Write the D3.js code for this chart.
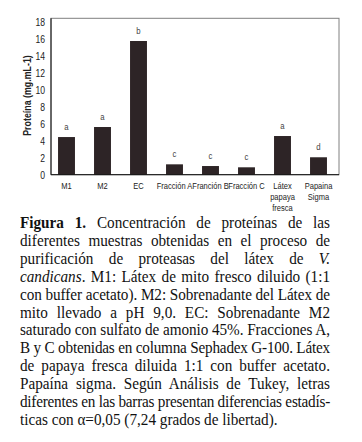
<!DOCTYPE html>
<html>
<head>
<meta charset="utf-8">
<script src="https://cdn.jsdelivr.net/npm/d3@7"></script>
<style>
  body { margin: 0; background: #fff; width: 362px; height: 442px; overflow: hidden; position: relative; }
  svg { position: absolute; left: 0; top: 0; }
  svg text { font-family: "Liberation Sans", Arial, sans-serif; }
  #caption { position: absolute; left: 20px; top: 214px; width: 326.3px;
    transform: scaleX(0.95); transform-origin: 0 0;
    font-family: "Liberation Serif", "Times New Roman", serif; font-size: 16px; line-height: 17.9px; color: #111; }
  #caption div { white-space: nowrap; }
</style>
</head>
<body>
<svg width="362" height="215"></svg>
<div id="caption"></div>
<script>
const categories = ['M1', 'M2', 'EC', 'Fracción A', 'Franción B', 'Fracción C', 'Látex\npapaya\nfresca', 'Papaina\nSigma'];
const proteina = [4.43, 5.61, 15.73, 1.22, 1.02, 0.87, 4.55, 2.05];
const letras = ['a', 'a', 'b', 'c', 'c', 'c', 'a', 'd'];
const yTicks = [0, 2, 4, 6, 8, 10, 12, 14, 16, 18];
const yLabel = 'Proteína (mg.mL-1)';

const captionLines = [
    [['b', 'Figura 1.'], ['', ' Concentración de proteínas de las']],
    [['', 'diferentes muestras obtenidas en el proceso de']],
    [['', 'purificación de proteasas del látex de '], ['i', 'V.']],
    [['i', 'candicans'], ['', '. M1: Látex de mito fresco diluido (1:1']],
    [['', 'con buffer acetato). M2: Sobrenadante del Látex de']],
    [['', 'mito llevado a pH 9,0. EC: Sobrenadante M2']],
    [['', 'saturado con sulfato de amonio 45%. Fracciones A,']],
    [['', 'B y C obtenidas en columna Sephadex G-100. Látex']],
    [['', 'de papaya fresca diluida 1:1 con buffer acetato.']],
    [['', 'Papaína sigma. Según Análisis de Tukey, letras']],
    [['', 'diferentes en las barras presentan diferencias estadís-']],
    [['', 'ticas con α=0,05 (7,24 grados de libertad).']]
];

const svg = d3.select('svg');
const plot = { left: 51, right: 339, top: 18.3, bottom: 174.7 };
const narrow = 'scale(0.82, 1)';

const x = d3.scaleBand()
    .domain(categories)
    .range([plot.left - 2.5, plot.right - 2.5])
    .paddingInner(0.53)
    .paddingOuter(0.265);
const y = d3.scaleLinear().domain([0, 18.4]).range([plot.bottom, plot.top]);

// marco
svg.append('rect')
    .attr('x', plot.left).attr('y', plot.top)
    .attr('width', plot.right - plot.left).attr('height', plot.bottom - plot.top)
    .attr('fill', 'none').attr('stroke', '#808080').attr('stroke-width', 1);

//---- Barras
svg.append('g').selectAll('rect')
    .data(categories)
    .join('rect')
    .attr('x', d => x(d))
    .attr('y', (d, i) => y(proteina[i]))
    .attr('width', x.bandwidth())
    .attr('height', (d, i) => y(0) - y(proteina[i]))
    .attr('fill', '#2d2426');

svg.append('g').selectAll('text')
    .data(categories)
    .join('text')
    .attr('transform', (d, i) => `translate(${x(d) + x.bandwidth() / 2}, ${y(proteina[i]) - 7}) ${narrow}`)
    .attr('text-anchor', 'middle')
    .attr('font-size', 9.5)
    .attr('fill', '#444')
    .text((d, i) => letras[i]);

// ejes
const yAxis = d3.axisLeft(y).tickValues(yTicks).tickSize(0).tickPadding(7.3);
svg.append('g')
    .attr('transform', `translate(${plot.left}, 0)`)
    .call(yAxis)
    .call(g => g.select('.domain').remove())
    .selectAll('text')
    .attr('font-family', null)
    .attr('font-size', 10.5)
    .attr('fill', '#222')
    .attr('transform', narrow);

const xAxis = d3.axisBottom(x).tickSize(0).tickPadding(8);
svg.append('g')
    .attr('transform', `translate(0, ${plot.bottom})`)
    .call(xAxis)
    .call(g => g.select('.domain').remove())
    .selectAll('text')
    .attr('font-family', null)
    .attr('font-size', 9.2)
    .attr('fill', '#222')
    .attr('transform', narrow)
    .each(function (d) {
        const t = d3.select(this);
        const parts = d.split('\n');
        t.text(null);
        parts.forEach((p, k) => {
            t.append('tspan').attr('x', 0).attr('dy', k === 0 ? '0.71em' : '1.2em').text(p);
        });
        t.attr('dy', null);
    });

svg.append('line')
    .attr('x1', plot.left).attr('x2', plot.left)
    .attr('y1', plot.top).attr('y2', plot.bottom)
    .attr('stroke', '#111');
svg.append('line')
    .attr('x1', plot.left).attr('x2', plot.right)
    .attr('y1', plot.bottom).attr('y2', plot.bottom)
    .attr('stroke', '#111');

svg.append('text')
    .attr('transform', `translate(30.5, 95.5) rotate(-90) ${narrow}`)
    .attr('text-anchor', 'middle')
    .attr('font-size', 10.8)
    .attr('font-weight', 'bold')
    .attr('fill', '#222')
    .text(yLabel);

// leyenda de la figura (justificada a mano)
const cap = d3.select('#caption');
const boxW = 326.3;
captionLines.forEach((line, i) => {
    const div = cap.append('div');
    const inner = div.append('span');
    line.forEach(([st, txt]) => {
        if (st === 'b') inner.append('b').text(txt);
        else if (st === 'i') inner.append('i').text(txt);
        else inner.append('span').text(txt);
    });
    if (i < captionLines.length - 1) {
        // getBoundingClientRect incluye la escala 0.95
        const w = inner.node().getBoundingClientRect().width / 0.95;
        const txt = line.map(s => s[1]).join('');
        const gaps = txt.split(' ').length - 1;
        if (w > boxW) {
            div.style('letter-spacing', ((boxW - w) / txt.length) + 'px');
        } else if (gaps > 0) {
            div.style('word-spacing', ((boxW - w) / gaps) + 'px');
        }
    }
});
</script>
</body>
</html>
